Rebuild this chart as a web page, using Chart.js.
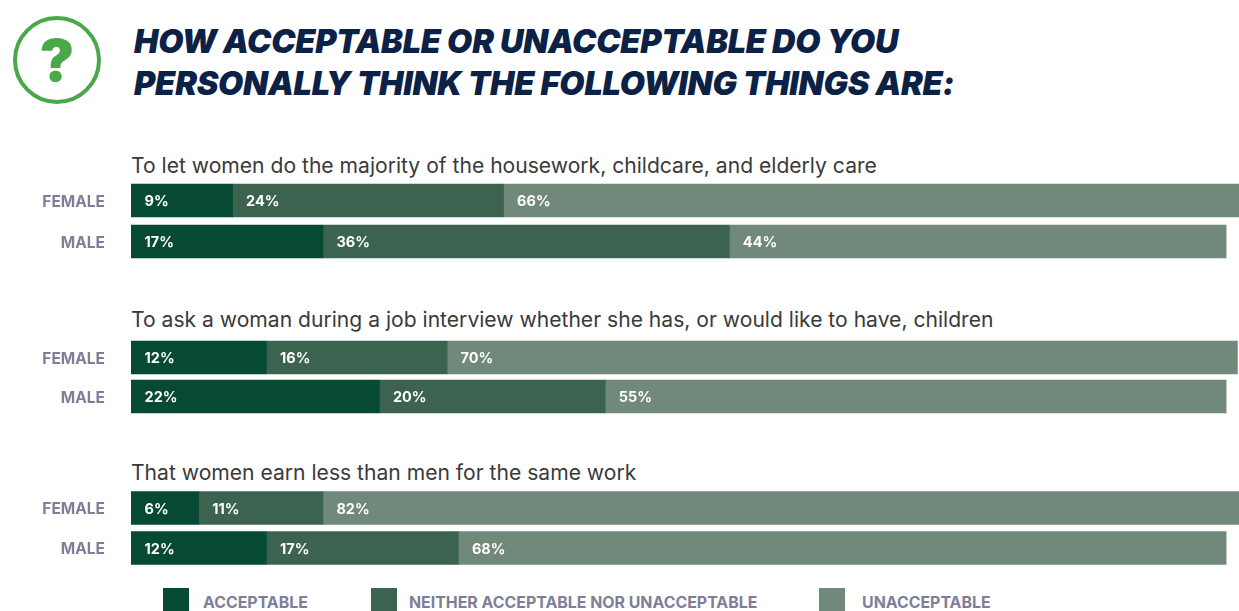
<!DOCTYPE html>
<html>
<head>
<meta charset="utf-8">
<script src="https://cdn.jsdelivr.net/npm/chart.js@4/dist/chart.umd.min.js"></script>
<style>
html, body { margin: 0; padding: 0; width: 1239px; height: 611px; overflow: hidden; background: #fff; }
body { position: relative; font-family: Inter, sans-serif; }
.abs { position: absolute; white-space: nowrap; }
#icon { left: 13px; top: 16px; width: 80px; height: 80px; border: 4px solid #4aa84a; border-radius: 50%; color: #4aa84a;
	font: 900 58px/80px Inter, sans-serif; text-align: center; }
#title { left: 134px; top: 21px; color: #0b2246; font: italic 900 32.5px/42px Inter, sans-serif; letter-spacing: -0.2px; }
.statement { left: 131px; color: #3a3a3a; font: 400 21.1px/26px Inter, sans-serif; }
canvas { position: absolute; left: 0; }
.swatch { top: 588px; width: 26px; height: 23px; }
.legend-label { top: 593px; color: #7f7e99; font: 700 15.9px/19px Inter, sans-serif; }
</style>
</head>
<body>
<div id="icon" class="abs">?</div>
<div id="title" class="abs">HOW ACCEPTABLE OR UNACCEPTABLE DO YOU<br>PERSONALLY THINK THE FOLLOWING THINGS ARE:</div>
<div id="page"></div>
<script>
const genders = ['FEMALE', 'MALE'];
const statements = [
	'To let women do the majority of the housework, childcare, and elderly care',
	'To ask a woman during a job interview whether she has, or would like to have, children',
	'That women earn less than men for the same work'
];
const seriesNames = ['ACCEPTABLE', 'NEITHER ACCEPTABLE NOR UNACCEPTABLE', 'UNACCEPTABLE'];
const seriesColors = ['#064a33', '#3b6350', '#71897a'];
// one [female, male] pair per statement
const acceptable = [[9, 17], [12, 22], [6, 12]];
const neither = [[24, 36], [16, 20], [11, 17]];
const unacceptable = [[66, 44], [70, 55], [82, 68]];

// page layout, one entry per statement
const canvasTops = [180, 338, 488];
const canvasHeights = [82, 78, 80];
const statementTops = [153, 307, 460];
const legendSwatchX = [163, 371, 819];
const legendLabelX = [203, 409, 862];

// percent labels inside the bars
const barLabels = {
	id: 'barLabels',
	afterDatasetsDraw(chart) {
		const ctx = chart.ctx;
		ctx.save();
		ctx.fillStyle = '#fff';
		ctx.font = '700 14.5px Inter, sans-serif';
		ctx.textBaseline = 'middle';
		chart.data.datasets.forEach((ds, d) => {
			chart.getDatasetMeta(d).data.forEach((bar, i) => {
				ctx.fillText(ds.data[i] + '%', bar.base + 13.5, bar.y + 1.5);
			});
		});
		ctx.restore();
	}
};

const page = document.querySelector('#page');

statements.forEach((text, s) => {
	const label = document.createElement('div');
	label.className = 'abs statement';
	label.style.top = statementTops[s] + 'px';
	label.textContent = text;
	page.appendChild(label);

	const canvas = document.createElement('canvas');
	canvas.style.top = canvasTops[s] + 'px';
	canvas.width = 1260;
	canvas.height = canvasHeights[s];
	page.appendChild(canvas);

	new Chart(canvas, {
		type: 'bar',
		data: {
			labels: genders,
			datasets: [acceptable[s], neither[s], unacceptable[s]].map((values, i) => ({
				label: seriesNames[i],
				data: values,
				backgroundColor: seriesColors[i],
				barThickness: 33
			}))
		},
		options: {
			indexAxis: 'y',
			responsive: false,
			animation: false,
			layout: { padding: 0 },
			plugins: { legend: { display: false }, tooltip: { enabled: false } },
			scales: {
				x: { stacked: true, display: false, min: 0, max: 100 },
				y: {
					stacked: true,
					grid: { display: false, drawTicks: false },
					border: { display: false },
					ticks: {
						color: '#7f7e99',
						padding: 26,
						labelOffset: 1.5,
						font: { family: 'Inter, sans-serif', size: 15.5, weight: '700' }
					},
					// tick padding also insets the plot vertically, so drop that
					afterFit(axis) {
						axis.width = 131;
						axis.paddingTop = 0;
						axis.paddingBottom = 0;
					}
				}
			}
		},
		plugins: [barLabels]
	});
});

seriesNames.forEach((name, i) => {
	const swatch = document.createElement('div');
	swatch.className = 'abs swatch';
	swatch.style.left = legendSwatchX[i] + 'px';
	swatch.style.background = seriesColors[i];
	page.appendChild(swatch);

	const label = document.createElement('div');
	label.className = 'abs legend-label';
	label.style.left = legendLabelX[i] + 'px';
	label.textContent = name;
	page.appendChild(label);
});
</script>
</body>
</html>
